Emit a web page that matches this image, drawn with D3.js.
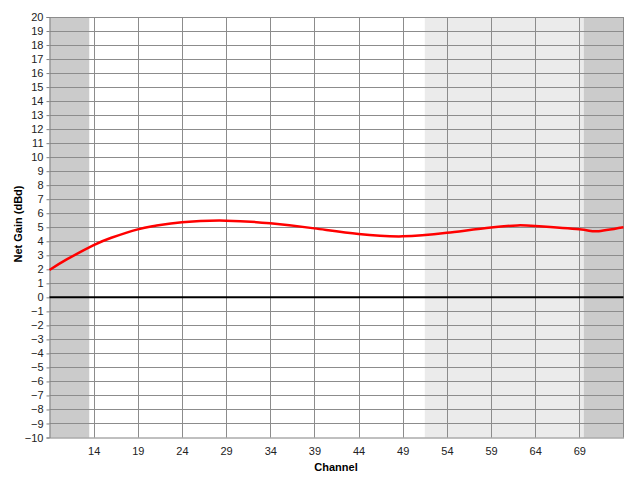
<!DOCTYPE html>
<html><head><meta charset="utf-8">
<script src="https://cdn.jsdelivr.net/npm/d3@7"></script>
<style>body{margin:0;background:#fff}svg{display:block}text{font-family:"Liberation Sans",Arial,sans-serif}</style>
</head><body><svg id="c" width="640" height="486"></svg>
<script>
const channels = [9,11,14,16,19,21,24,29,34,39,44,49,54,59,62,64,69,71,74];
const gain     = [1.95,2.72,3.72,4.25,4.85,5.1,5.36,5.47,5.28,4.92,4.52,4.35,4.6,4.98,5.13,5.09,4.85,4.71,5.0];
const xTicks = [14,19,24,29,34,39,44,49,54,59,64,69];
const yTicks = d3.range(-10,21,1);
const bands = [{from:9,to:13.5,fill:"#cbcbcb"},{from:51.5,to:69.5,fill:"#ebebeb"},{from:69.5,to:74,fill:"#cbcbcb"}];
const xDomain=[9,74], yDomain=[-10,20];

const svg=d3.select("#c");
const m={l:49.5,t:17,r:623.5,b:437.5};
const x=d3.scaleLinear().domain(xDomain).range([m.l,m.r]);
const y=d3.scaleLinear().domain(yDomain).range([m.b,m.t]);

svg.append("g").selectAll("rect").data(bands).join("rect")
 .attr("x",d=>x(d.from)).attr("width",d=>x(d.to)-x(d.from))
 .attr("y",m.t).attr("height",m.b-m.t).attr("fill",d=>d.fill);

svg.append("g").selectAll("line").data(yTicks.filter(v=>v!==0&&v!==-10)).join("line")
 .attr("x1",m.l).attr("x2",m.r).attr("y1",d=>Math.round(y(d))+0.5).attr("y2",d=>Math.round(y(d))+0.5)
 .attr("stroke","#8c8c8c").attr("stroke-width",1);
svg.append("g").selectAll("line").data(xTicks).join("line")
 .attr("y1",m.t).attr("y2",m.b).attr("x1",d=>Math.round(x(d))+0.5).attr("x2",d=>Math.round(x(d))+0.5)
 .attr("stroke","#8c8c8c").attr("stroke-width",1);
svg.append("line").attr("x1",m.r).attr("x2",m.r).attr("y1",m.t).attr("y2",m.b).attr("stroke","#8c8c8c");

const ya=d3.axisLeft(y).tickValues(yTicks).tickSize(3).tickPadding(3).tickFormat(d3.format("d"));
const yg=svg.append("g").attr("transform",`translate(${m.l},0)`).call(ya);
yg.select(".domain").attr("stroke","#808080");
yg.selectAll(".tick line").attr("stroke","#808080");
yg.selectAll("text").attr("font-size",11).attr("fill","#222");

const xa=d3.axisBottom(x).tickValues(xTicks).tickSize(0).tickPadding(10).tickFormat(d3.format("d"));
const xg=svg.append("g").attr("transform",`translate(0,${m.b})`).call(xa);
xg.select(".domain").attr("stroke","#808080");
xg.selectAll("text").attr("font-size",11).attr("fill","#222");

svg.append("line").attr("x1",m.l).attr("x2",m.r).attr("y1",y(0)).attr("y2",y(0)).attr("stroke","#000").attr("stroke-width",2);

const line=d3.line().x((d,i)=>x(channels[i])).y(d=>y(d)).curve(d3.curveNatural);
svg.append("path").datum(gain).attr("d",line).attr("fill","none").attr("stroke","#ff0000").attr("stroke-width",2.5);

svg.append("text").attr("x",336).attr("y",471).attr("text-anchor","middle").attr("font-size",11).attr("font-weight","bold").text("Channel");
svg.append("text").attr("transform","translate(22,224) rotate(-90)").attr("text-anchor","middle").attr("font-size",11).attr("font-weight","bold").text("Net Gain (dBd)");
</script></body></html>
